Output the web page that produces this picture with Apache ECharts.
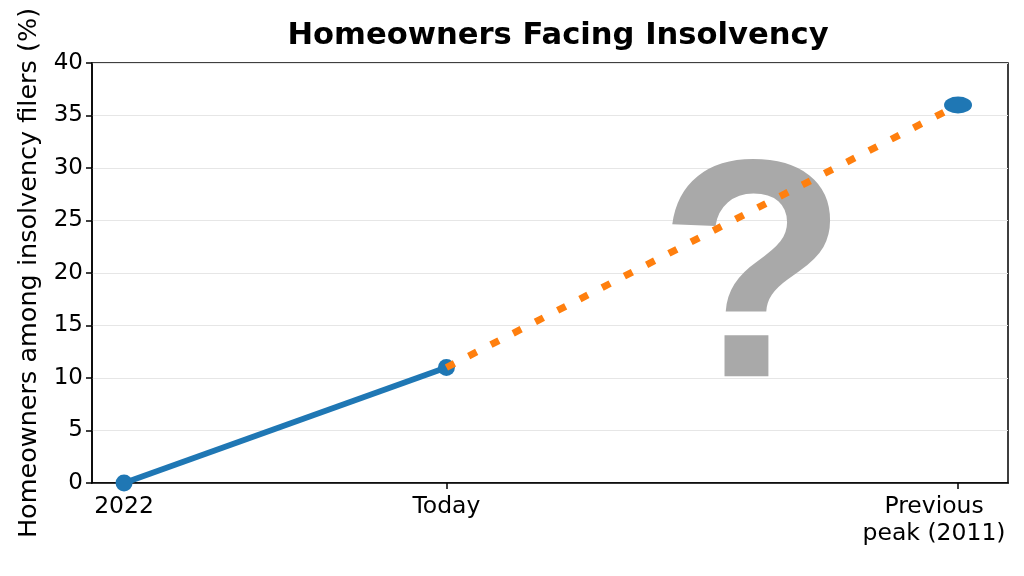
<!DOCTYPE html>
<html>
<head>
<meta charset="utf-8">
<script src="https://cdn.jsdelivr.net/npm/echarts@6/dist/echarts.min.js"></script>
<style>
html,body{margin:0;padding:0;background:#fff;}
#chart{width:1024px;height:576px;}
</style>
</head>
<body>
<div id="chart"></div>
<script>
// Data
var tickPositions = [0, 1, 2.587];
var tickLabels = ['2022', 'Today', 'Previous\npeak (2011)'];
var actualX = [0, 1];
var actualY = [0, 11];
var projectedX = [1, 2.587];
var projectedY = [11, 36];
var peakX = [2.587];
var peakY = [36];

function pairs(xs, ys) { return xs.map(function (x, i) { return [x, ys[i]]; }); }

var FONT = 'DejaVu Sans';
var chart = echarts.init(document.getElementById('chart'));
var option = {
  animation: false,
  backgroundColor: '#ffffff',
  title: {
    text: 'Homeowners Facing Insolvency',
    left: 553, top: 16, textAlign: 'center',
    textStyle: { fontFamily: FONT, fontWeight: 'bold', fontSize: 30.6, color: '#000' }
  },
  grid: {
    left: 92, right: 16, top: 63, bottom: 93,
    outerBoundsMode: 'none', containLabel: false,
    show: true, borderColor: '#000', borderWidth: 1.5, backgroundColor: 'transparent'
  },
  xAxis: {
    type: 'value', min: -0.0994, max: 2.742,
    axisLine: { show: true, onZero: false, lineStyle: { color: '#000', width: 1.5 } },
    splitLine: { show: false },
    axisTick: { show: true, customValues: tickPositions, length: 6, lineStyle: { color: '#000', width: 1.5 } },
    axisLabel: {
      customValues: tickPositions,
      formatter: function (v) {
        for (var i = 0; i < tickPositions.length; i++) {
          if (Math.abs(tickPositions[i] - v) < 1e-6) {
            if (i === tickPositions.length - 1) {
              return tickLabels[i].split('\n').map(function (s) { return '{shift|' + s + '}'; }).join('\n');
            }
            return tickLabels[i];
          }
        }
        return '';
      },
      fontFamily: FONT, fontSize: 23.5, color: '#000', margin: 10, lineHeight: 27, align: 'center',
      rich: {
        shift: { fontFamily: FONT, fontSize: 23.5, color: '#000', lineHeight: 27, padding: [0, 48, 0, 0] }
      }
    }
  },
  yAxis: {
    type: 'value', min: 0, max: 40, interval: 5,
    name: 'Homeowners among insolvency filers (%)',
    nameLocation: 'middle', nameGap: 48,
    nameTextStyle: { fontFamily: FONT, fontSize: 25.5, color: '#000' },
    axisLine: { show: true, onZero: false, lineStyle: { color: '#000', width: 1.5 } },
    axisTick: { show: true, length: 6, lineStyle: { color: '#000', width: 1.5 } },
    axisLabel: { fontFamily: FONT, fontSize: 23, color: '#000', margin: 9 },
    splitLine: { show: true, lineStyle: { color: '#e6e6e6', width: 1 } }
  },
  graphic: [{
    type: 'text', z: 1, left: 658, top: 135,
    style: { text: '?', fontFamily: 'Liberation Sans', fontWeight: 'bold', fontSize: 311, fill: '#a9a9a9' }
  }],
  series: [
    {
      type: 'line', data: pairs(actualX, actualY), z: 3,
      lineStyle: { color: '#1f77b4', width: 6 },
      itemStyle: { color: '#1f77b4' },
      symbol: 'circle', symbolSize: 17, showSymbol: true
    },
    {
      type: 'line', data: pairs(projectedX, projectedY), z: 4,
      lineStyle: { color: '#ff7f0e', width: 7, type: [9, 16] },
      symbol: 'none'
    },
    {
      type: 'scatter', data: pairs(peakX, peakY), z: 5,
      symbol: 'circle', symbolSize: [28, 17],
      itemStyle: { color: '#1f77b4', opacity: 1 }
    }
  ]
};
chart.setOption(option);
</script>
</body>
</html>
